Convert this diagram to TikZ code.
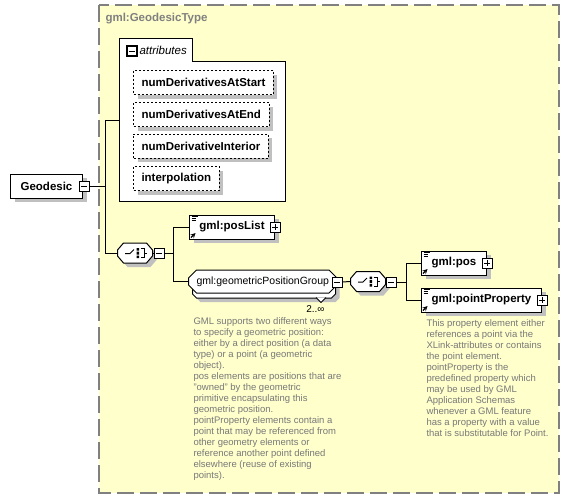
\documentclass[tikz,border=0pt]{standalone}
\usepackage{fontspec}
\setmainfont{Liberation Sans}
\usetikzlibrary{calc}
\usetikzlibrary{shapes.misc}
\usetikzlibrary{shadows}
\definecolor{schemafill}{RGB}{255,255,204}
\definecolor{schemaline}{RGB}{128,128,128}
\definecolor{boxshadow}{RGB}{192,192,192}
\definecolor{doctext}{RGB}{120,120,120}
\newcommand{\namefont}{\fontsize{11.5}{13}\selectfont\bfseries}
\newcommand{\groupfont}{\fontsize{10.5}{12}\selectfont}
\newcommand{\docfont}{\fontsize{9.5}{11}\selectfont}
\newcommand{\heightbox}{24pt}
\newcommand{\shadowshift}{4pt}
\newcommand{\seqoutline}{(-17.5,-3) -- (-11.5,-10) -- (11.5,-10) -- (17.5,-3) -- (17.5,3) -- (11.5,10) -- (-11.5,10) -- (-17.5,3) -- cycle}
\newcommand{\seqicon}[2]{
    \begin{scope}[shift={(#2)}]
        \fill[boxshadow, shift={(4,4)}] \seqoutline;
        \draw[fill=white] \seqoutline;
        \draw (-10,0.5) -- (-5,0.5) -- (-1,-3.5);
        \fill (1.5,-5) rectangle (4,-2.5) (1.5,-1.5) rectangle (4,1.5) (1.5,2.5) rectangle (4,5);
        \draw (5.5,-4.5) -- (9,-4.5) -- (9,4.5) -- (5.5,4.5) (9,0) -- (12,0);
        \node[seqbox] (#1) {};
    \end{scope}
}
\tikzset{
    common/.style={anchor=west, draw, rectangle, fill=white, minimum height=\heightbox, inner xsep=8pt, inner ysep=0pt, font=\namefont},
    shadowed/.style={general shadow={fill=boxshadow, shadow xshift=\shadowshift, shadow yshift=-\shadowshift}},
    element/.style={common, shadowed},
    attribute/.style={element, dash pattern=on 2pt off 2pt},
    panel/.style={anchor=north west, draw, fill=white, minimum width=166pt, minimum height=140pt, inner sep=0pt},
    seqbox/.style={rectangle, minimum width=35pt, minimum height=20pt, inner sep=0pt},
    toggle/.style={draw, fill=white, minimum size=10pt, inner sep=0pt},
    collapse/.style={toggle,
        path picture={
            \draw[line width=1pt]
                ([xshift=2pt]path picture bounding box.west) -- ([xshift=-2pt]path picture bounding box.east);
        }
    },
    expand/.style={toggle,
        path picture={
            \draw[line width=1pt]
                ([xshift=2pt]path picture bounding box.west) -- ([xshift=-2pt]path picture bounding box.east)
                ([yshift=-2pt]path picture bounding box.north) -- ([yshift=2pt]path picture bounding box.south);
        }
    },
    refmark/.style={
        path picture={
            \draw[line width=0.8pt]
                ([xshift=2pt, yshift=-1.5pt]path picture bounding box.north west) -- ++(6pt,0pt)
                ([xshift=2pt, yshift=-3.5pt]path picture bounding box.north west) -- ++(4pt,0pt)
                ([xshift=2pt, yshift=-5.5pt]path picture bounding box.north west) -- ++(4pt,0pt);
            \draw[line width=1.2pt, -stealth]
                ([xshift=1.5pt, yshift=1.5pt]path picture bounding box.south west) -- ++(4.5pt,4.5pt);
        }
    },
    group/.style={anchor=west, chamfered rectangle, chamfered rectangle xsep=4pt, chamfered rectangle ysep=4pt,
        draw, fill=white, minimum width=143pt, minimum height=23pt, inner xsep=4pt, inner ysep=0pt, font=\groupfont},
    doc/.style={anchor=north west, align=left, inner sep=0pt, font=\docfont, text=doctext}
}

\begin{document}
\begin{tikzpicture}[x=1pt, y=-1pt, line width=1pt]
    \useasboundingbox (0,0) rectangle (569,499);

    \draw[schemaline, fill=schemafill, line width=1.3pt, dash pattern=on 17pt off 6pt] (99,5) rectangle (559,493);
    \node[anchor=west, inner sep=0pt, font=\namefont, text=schemaline] (type-name) at (105,19) {gml:GeodesicType};

    % attributes
    \node[panel] (attr-panel) at (119,61) {};
    \draw[fill=white] (119,61.5) |- (192,38) -- (192,61.5);
    \node[collapse, line width=1.6pt] (attr-toggle) at (132,51) {};
    \node[anchor=west, inner sep=0pt, font=\fontsize{11.5}{13}\selectfont\itshape] (attr-title) at (139,50) {attributes};
    \coordinate (attr-link) at (119,120);
    \path
        (133,82.5) node[attribute] (attr-start) {numDerivativesAtStart}
        to ++(0,32) node[attribute] (attr-end) {numDerivativesAtEnd}
        to ++(0,31.5) node[attribute] (attr-interior) {numDerivativeInterior}
        to ++(0,32.5) node[attribute] (attr-interp) {interpolation};

    % content model
    \node[element, minimum width=72pt] (geodesic) at (10,186) {Geodesic};
    \node[collapse] (geodesic-toggle) at ([xshift=1pt]geodesic.east) {};

    \seqicon{seq-main}{135,253}
    \node[collapse] (seq-main-toggle) at (159,253) {};
    \node[element, refmark, minimum width=85pt] (pos-list) at (189,227) {gml:posList};
    \node[expand] (pos-list-toggle) at (pos-list.east) {};

    \node[group, shadowed] (pos-group-back) at (192,286.5) {};
    \draw[fill=white] (316,297.5) -- (321,302.5) -- (326,297.5);
    \node[group] (pos-group) at (188,281.5) {gml:geometricPositionGroup};
    \node[collapse] (pos-group-toggle) at (337,282) {};
    \node[anchor=east, inner sep=0pt, font=\fontsize{10}{12}\selectfont] (pos-group-count) at (325,308.5) {2..∞};

    \seqicon{seq-point}{368,281.5}
    \node[collapse] (seq-point-toggle) at (391,282) {};
    \node[element, refmark, minimum width=65pt] (pos) at (421,263) {gml:pos};
    \node[expand] (pos-toggle) at (pos.east) {};
    \node[element, refmark, minimum width=120pt] (point-property) at (421,300) {gml:pointProperty};
    \node[expand] (point-property-toggle) at (point-property.east) {};

    \draw (geodesic-toggle.east) -- ++(16,0) coordinate (geodesic-split) |- (attr-link);
    \draw (geodesic-split) |- (seq-main.west);
    \draw (seq-main.east) -- (seq-main-toggle.west);
    \draw (seq-main-toggle.east) -- ++(9,0) coordinate (seq-main-split) |- (pos-list.west);
    \draw (seq-main-split) |- (pos-group.west);
    \draw (pos-group-toggle.east) -- (seq-point.west);
    \draw (seq-point.east) -- (seq-point-toggle.west);
    \draw (seq-point-toggle.east) -- ++(10,0) coordinate (seq-point-split) |- (pos.west);
    \draw (seq-point-split) |- (point-property.west);

    % annotations
    \node[doc] (pos-group-doc) at (193,317.5) {GML supports two different ways\\
        to specify a geometric position:\\
        either by a direct position (a data\\
        type) or a point (a geometric\\
        object).\\
        pos elements are positions that are\\
        "owned" by the geometric\\
        primitive encapsulating this\\
        geometric position.\\
        pointProperty elements contain a\\
        point that may be referenced from\\
        other geometry elements or\\
        reference another point defined\\
        elsewhere (reuse of existing\\
        points).};
    \node[doc] (point-property-doc) at (426,319.5) {This property element either\\
        references a point via the\\
        XLink-attributes or contains\\
        the point element.\\
        pointProperty is the\\
        predefined property which\\
        may be used by GML\\
        Application Schemas\\
        whenever a GML feature\\
        has a property with a value\\
        that is substitutable for Point.};
\end{tikzpicture}
\end{document}
